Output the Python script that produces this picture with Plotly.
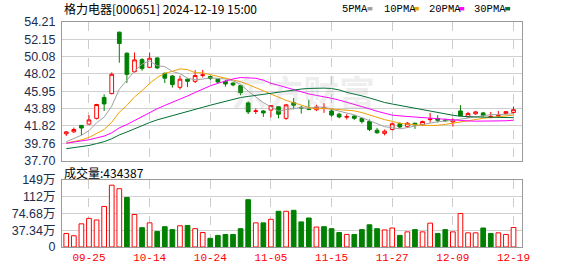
import plotly.graph_objects as go
import pandas as pd

# ---------------- data ----------------
dates = ["09-20","09-23","09-24","09-25","09-26","09-27","09-30",
         "10-08","10-09","10-10","10-11","10-14","10-15","10-16","10-17","10-18",
         "10-21","10-22","10-23","10-24","10-25","10-28","10-29","10-30","10-31",
         "11-01","11-04","11-05","11-06","11-07","11-08","11-11","11-12","11-13",
         "11-14","11-15","11-18","11-19","11-20","11-21","11-22","11-25","11-26",
         "11-27","11-28","11-29","12-02","12-03","12-04","12-05","12-06","12-09",
         "12-10","12-11","12-12","12-13","12-16","12-17","12-18","12-19"]

opens = [40.89,41.12,41.89,42.04,42.73,45.22,45.68,53.00,50.49,48.29,
         49.73,48.81,49.93,48.09,47.78,46.43,47.40,47.14,47.85,47.71,
         47.40,47.14,46.94,46.63,44.57,43.55,43.61,43.72,44.11,42.73,
         44.60,44.05,43.85,43.76,43.96,43.61,43.23,42.86,43.00,42.73,
         42.35,41.32,40.94,41.40,42.09,41.78,42.15,41.97,42.58,42.70,
         42.52,42.30,43.61,42.92,43.27,43.38,42.88,43.00,43.30,43.42]
highs = [41.22,41.63,41.95,43.12,44.45,45.60,48.20,53.05,50.60,50.58,
         49.90,50.58,50.00,48.20,47.90,47.83,47.45,48.47,48.50,47.85,
         47.50,47.30,47.00,46.70,44.75,43.90,43.70,44.30,44.20,44.45,
         45.14,44.20,44.95,44.35,44.53,43.90,43.40,43.23,43.10,42.85,
         42.60,41.60,41.40,42.25,42.25,42.30,42.20,42.45,43.38,43.10,
         42.70,42.73,44.30,43.50,43.60,43.50,43.50,43.60,43.60,44.15]
lows = [40.63,41.00,40.71,41.98,42.60,43.61,45.60,49.36,46.94,48.20,
        48.40,48.70,48.60,46.94,46.40,46.17,46.45,46.94,47.60,47.30,
        46.90,46.50,46.55,45.48,43.23,43.25,42.90,42.84,42.73,42.55,
        43.81,43.30,43.70,43.60,43.38,42.92,42.73,42.60,42.55,42.12,
        41.20,40.90,40.70,41.30,41.55,41.60,41.47,41.85,42.23,42.23,
        42.30,41.75,43.00,42.80,43.15,42.84,42.73,42.80,43.20,43.30]
closes = [41.12,41.40,41.58,42.54,44.38,44.45,47.98,51.65,47.97,49.70,
          48.66,49.89,48.74,47.52,46.75,47.40,47.14,47.83,47.92,47.48,
          47.06,46.83,46.71,45.79,43.50,43.62,43.38,44.26,43.22,44.34,
          44.30,43.98,43.80,44.07,44.03,43.12,42.90,42.95,42.73,42.35,
          41.40,41.01,41.20,42.09,41.70,42.15,41.97,42.35,42.65,42.50,
          42.46,42.52,43.04,43.30,43.50,43.07,42.96,43.05,43.53,43.76]
# closes of the 29 sessions before the window (estimated from the MA lines)
pre_closes = [38.2,38.0,37.8,37.6,37.5,37.7,37.9,37.6,37.8,37.9,
              38.6,39.2,39.6,39.9,40.1,40.2,39.9,40.0,40.1,40.0,
              39.7,39.5,39.6,39.7,39.6,39.5,39.6,39.8,39.7]
# volume in 万 (x10000)
volumes_wan = [30.2,25.1,51.7,63.9,60.3,90.5,137.9,130.0,110.6,72.6,
               43.1,53.9,34.5,45.3,38.8,47.4,48.1,40.9,32.3,19.4,
               25.9,28.0,28.0,40.9,105.6,53.9,53.9,61.8,79.7,79.7,
               81.9,56.0,64.7,44.5,45.3,40.9,32.3,28.0,28.0,38.8,
               49.6,40.9,38.1,42.4,25.9,33.8,38.8,33.8,53.2,30.2,
               38.8,33.8,74.7,31.6,31.6,42.4,30.2,31.6,28.0,43.4387]

price_ticks = [54.21,52.15,50.08,48.02,45.95,43.89,41.82,39.76,37.70]
vol_tick_labels = ["0","37.34万","74.68万","112万","149万"]
label_dates = ["09-25","10-14","10-24","11-05","11-15","11-27","12-09","12-19"]
ma_periods = [5, 10, 20, 30]
ma_names = ["5PMA","10PMA","20PMA","30PMA"]
ma_colors = ["#a0a0a0","#f0a000","#ff00ff","#006e34"]

# ---------------- derived ----------------
n = len(dates)
idx = list(range(n))
allc = pd.Series(pre_closes + closes)
mas = [allc.rolling(p).mean().iloc[len(pre_closes):].tolist() for p in ma_periods]
volumes = [v * 10000 for v in volumes_wan]
prevs = [pre_closes[-1]] + closes[:-1]
up = [c >= p for c, p in zip(closes, prevs)]
vfill = ["#ffffff" if u else "#008000" for u in up]
vline = ["#ff0000" if u else "#008000" for u in up]
vmax = 1493600
vol_tickvals = [vmax * k / 4 for k in range(5)]
pmin, pmax = 37.70, 54.21
price_tickvals = [pmin + (pmax - pmin) * k / 8 for k in range(9)][::-1]
label_idx = [dates.index(d) for d in label_dates]

# pixel helpers (plot area: x 56..522, y 22..255)
L, R, T, B = 56, 56, 22, 21
W, H = 578, 276
PW, PH = W - L - R, H - T - B
def px(x): return (x - L) / PW
def py(y): return (H - B - y) / PH

fig = go.Figure()
fig.add_trace(go.Candlestick(
    x=idx, open=opens, high=highs, low=lows, close=closes,
    increasing=dict(line=dict(color="#ff0000", width=1), fillcolor="#ffffff"),
    decreasing=dict(line=dict(color="#008000", width=1), fillcolor="#008000"),
    whiskerwidth=0, hoverinfo="skip", showlegend=False, xaxis="x", yaxis="y"))
for m, nm, col in zip(mas, ma_names, ma_colors):
    fig.add_trace(go.Scatter(x=idx, y=m, mode="lines", name=nm,
                             line=dict(color=col, width=1), hoverinfo="skip",
                             showlegend=False, xaxis="x", yaxis="y"))
fig.add_trace(go.Bar(x=idx, y=volumes, width=0.62,
                     marker=dict(color=vfill, line=dict(color=vline, width=1)),
                     hoverinfo="skip", showlegend=False, xaxis="x2", yaxis="y2"))

xr = [-0.56, 60.12]
axcommon = dict(showline=True, mirror=True, linecolor="#999999", linewidth=1,
                zeroline=False, ticks="", fixedrange=True)
fig.update_layout(
    width=W, height=H, autosize=False,
    margin=dict(l=L, r=R, t=T, b=B, pad=0),
    paper_bgcolor="#ffffff", plot_bgcolor="#ffffff",
    xaxis=dict(domain=[0, 1], range=xr, anchor="y", tickvals=label_idx,
               showticklabels=False, showgrid=True, gridcolor="#cccccc",
               griddash="dash", gridwidth=1, rangeslider=dict(visible=False),
               **axcommon),
    yaxis=dict(domain=[py(165.5), 1], range=[pmin, pmax], anchor="x",
               tickvals=price_tickvals, ticktext=[f"{v:.2f}" for v in price_ticks],
               showgrid=True, gridcolor="#d0d0d0", gridwidth=1,
               tickfont=dict(family="Liberation Sans", size=12.5, color="#1c2d4f"),
               ticklabelstandoff=3, **axcommon),
    xaxis2=dict(domain=[0, 1], range=xr, anchor="y2", tickvals=label_idx,
                ticktext=label_dates, showgrid=True, gridcolor="#cccccc",
                griddash="dash", gridwidth=1,
                tickfont=dict(family="Liberation Mono", size=11, color="#ff0000"),
                **axcommon),
    yaxis2=dict(domain=[0, py(185.7)], range=[0, vmax], anchor="x2",
                tickvals=vol_tickvals, ticktext=vol_tick_labels,
                showgrid=True, gridcolor="#d0d0d0", gridwidth=1,
                tickfont=dict(family="Liberation Sans, Noto Sans CJK SC", size=12.5,
                              color="#1c2d4f"),
                ticklabelstandoff=3, **axcommon),
)

ann = []
ann.append(dict(text="格力电器[000651] 2024-12-19 15:00", x=px(56.5), y=py(8.5),
                xref="paper", yref="paper", xanchor="left", yanchor="middle",
                showarrow=False,
                font=dict(family="Noto Sans CJK SC", size=12, color="#000000")))
leg_x = [338, 380, 426, 471.5]
sq_x = [365.5, 412.5, 458.5, 505]
shapes = []
for nm, col, lx, sx in zip(ma_names, ma_colors, leg_x, sq_x):
    ann.append(dict(text=nm, x=px(lx), y=py(9), xref="paper", yref="paper",
                    xanchor="left", yanchor="middle", showarrow=False,
                    font=dict(family="Liberation Mono", size=10.5, color="#000000")))
    shapes.append(dict(type="rect", xref="paper", yref="paper",
                       x0=px(sx), x1=px(sx + 5), y0=py(10), y1=py(6.5),
                       fillcolor=col, line=dict(width=0)))
ann.append(dict(text="成交量:434387", x=px(56.5), y=py(177.5), xref="paper",
                yref="paper", xanchor="left", yanchor="middle", showarrow=False,
                font=dict(family="Noto Sans CJK SC", size=12, color="#000000")))
ann.append(dict(text="<b>东方财富</b>", x=px(300), y=py(93), xref="paper", yref="paper",
                xanchor="center", yanchor="middle", showarrow=False,
                font=dict(family="Noto Sans CJK SC", size=36,
                          color="rgba(150,150,150,0.16)")))
fig.update_layout(annotations=ann, shapes=shapes)

fig.write_html("out.html", config={"displayModeBar": False, "staticPlot": True})
